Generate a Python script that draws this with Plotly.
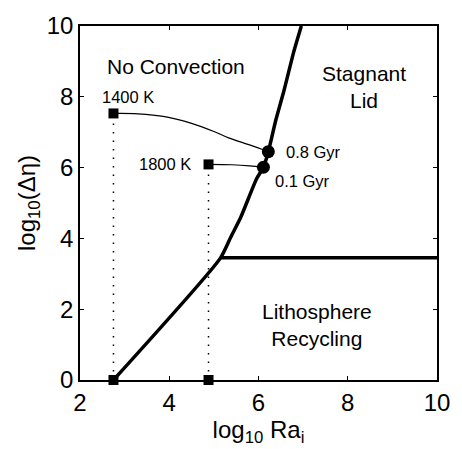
import plotly.graph_objects as go

# Regime boundary (No Convection / Stagnant Lid / Lithosphere Recycling)
boundary_x = [2.75, 5.15, 5.38, 5.6, 5.96, 6.11, 6.22, 6.39, 6.57, 6.79, 6.96]
boundary_y = [0.0, 3.45, 4.04, 4.59, 5.69, 6.01, 6.45, 7.35, 8.17, 9.27, 10.0]

# Stagnant lid / recycling boundary
lid_x = [5.15, 10.0]
lid_y = [3.45, 3.45]

# Evolution paths
path1400_x = [2.75, 3.3, 3.9, 4.5, 5.0, 5.33, 5.8, 6.22]
path1400_y = [7.53, 7.52, 7.44, 7.25, 7.02, 6.84, 6.64, 6.45]
path1800_x = [4.88, 5.4, 5.8, 6.11]
path1800_y = [6.09, 6.08, 6.05, 6.01]

# Initial conditions (squares) and end states (circles)
start_x = [2.75, 4.88]
start_y = [7.53, 6.09]
start_labels = ["1400 K", "1800 K"]
base_x = [2.75, 4.88]
base_y = [0.0, 0.0]
end_x = [6.11, 6.22]
end_y = [6.01, 6.45]
end_labels = ["0.1 Gyr", "0.8 Gyr"]

# Region labels
region_text = ["No Convection", "Stagnant<br>Lid", "Lithosphere<br>Recycling"]
region_x = [4.14, 8.37, 7.32]
region_y = [8.87, 8.28, 1.55]

ticks_x = [2, 4, 6, 8, 10]
ticks_y = [0, 2, 4, 6, 8, 10]

FONT = "Liberation Sans, Arial, Helvetica, sans-serif"

fig = go.Figure()

# dotted vertical guides
for xv, yv in zip(start_x, start_y):
    fig.add_trace(go.Scatter(x=[xv, xv], y=[0, yv], mode="lines",
                             line=dict(color="black", width=1.5, dash="1.5px,7px"),
                             hoverinfo="skip", showlegend=False))

fig.add_trace(go.Scatter(x=path1400_x, y=path1400_y, mode="lines",
                         line=dict(color="black", width=1.2, shape="spline"),
                         showlegend=False))
fig.add_trace(go.Scatter(x=path1800_x, y=path1800_y, mode="lines",
                         line=dict(color="black", width=1.2, shape="spline"),
                         showlegend=False))

fig.add_trace(go.Scatter(x=boundary_x, y=boundary_y, mode="lines",
                         line=dict(color="black", width=3.5, shape="spline", smoothing=0.6),
                         showlegend=False, cliponaxis=False))
fig.add_trace(go.Scatter(x=lid_x, y=lid_y, mode="lines",
                         line=dict(color="black", width=3.5),
                         showlegend=False))

fig.add_trace(go.Scatter(x=start_x + base_x, y=start_y + base_y, mode="markers",
                         marker=dict(symbol="square", size=10, color="black"),
                         showlegend=False, cliponaxis=False))
fig.add_trace(go.Scatter(x=end_x, y=end_y, mode="markers",
                         marker=dict(symbol="circle", size=13, color="black"),
                         showlegend=False, cliponaxis=False))

# labels
LBL = dict(size=16.5, color="black", family=FONT)
fig.add_annotation(x=start_x[0] + 0.33, y=start_y[0] + 0.47, text=start_labels[0],
                   showarrow=False, xanchor="center", yanchor="middle", font=LBL)
fig.add_annotation(x=start_x[1] - 0.35, y=start_y[1], text=start_labels[1],
                   showarrow=False, xanchor="right", yanchor="middle", font=LBL)
fig.add_annotation(x=end_x[1] + 0.36, y=end_y[1], text=end_labels[1],
                   showarrow=False, xanchor="left", yanchor="middle", font=LBL)
fig.add_annotation(x=end_x[0] + 0.21, y=end_y[0] - 0.38, text=end_labels[0],
                   showarrow=False, xanchor="left", yanchor="middle", font=LBL)
for t, xv, yv in zip(region_text, region_x, region_y):
    fig.add_annotation(x=xv, y=yv, text=t, showarrow=False,
                       xanchor="center", yanchor="middle",
                       font=dict(size=21, color="black", family=FONT))

axis_common = dict(showline=True, linecolor="black", linewidth=1.5, mirror="ticks",
                   ticks="inside", ticklen=4, tickwidth=1.2, tickcolor="black",
                   showgrid=False, zeroline=False,
                   tickfont=dict(size=24, color="black", family=FONT))

fig.update_xaxes(range=[2, 10], tickvals=ticks_x, ticktext=[str(v) for v in ticks_x],
                 title=dict(text="log<sub>10</sub> Ra<sub>i</sub>", standoff=0,
                            font=dict(size=24, color="black", family=FONT)),
                 **axis_common)
fig.update_yaxes(range=[0, 10], tickvals=ticks_y, ticktext=[str(v) for v in ticks_y],
                 title=dict(text="log<sub>10</sub>(Δη)", standoff=4,
                            font=dict(size=24, color="black", family=FONT)),
                 **axis_common)

fig.update_layout(width=462, height=449,
                  margin=dict(l=80, r=19, t=17, b=69),
                  paper_bgcolor="white", plot_bgcolor="white",
                  showlegend=False)

fig.write_html("out.html")
